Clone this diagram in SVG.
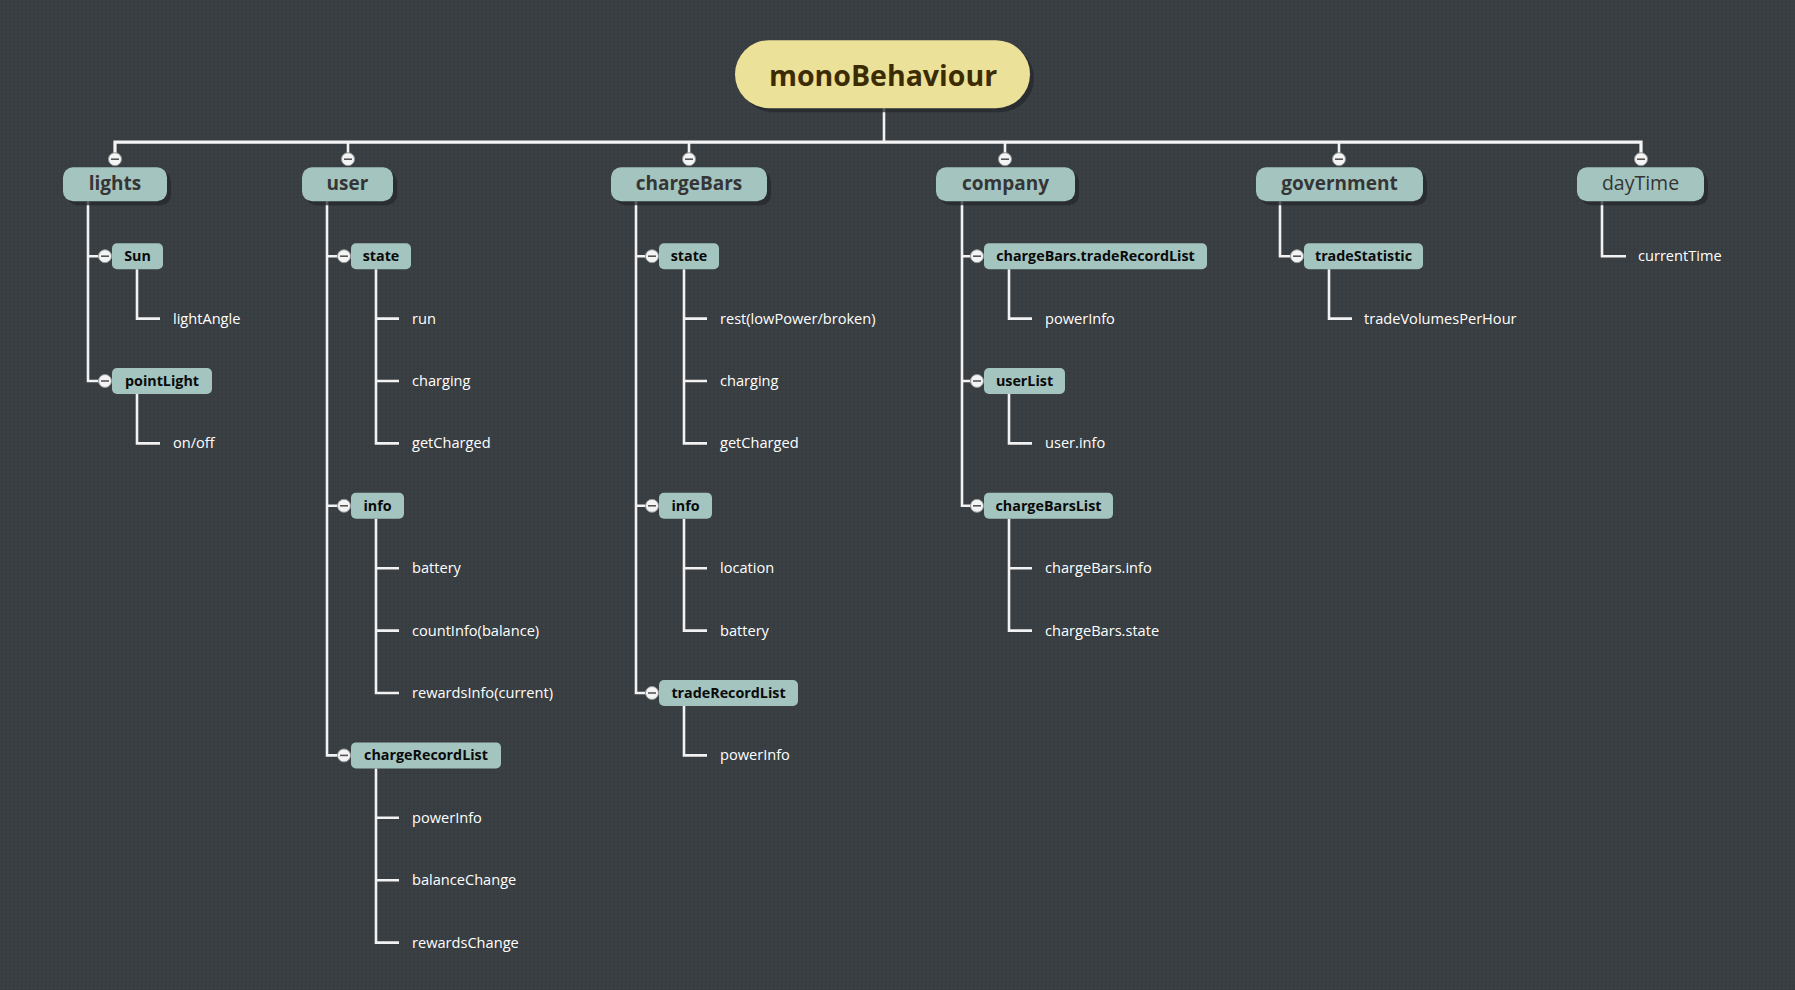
<svg xmlns="http://www.w3.org/2000/svg" width="1795" height="990" viewBox="0 0 1795 990">
<defs>
<pattern id="dots" width="4" height="4" patternUnits="userSpaceOnUse">
<rect width="4" height="4" fill="#3a3f43"/>
<rect x="1" y="1" width="1.2" height="1.2" fill="#31363a"/>
</pattern>
<g id="minus">
<circle r="6.5" fill="#f4f4f4" stroke="#8f9494" stroke-width="1"/>
<line x1="-4" y1="0" x2="4" y2="0" stroke="#555" stroke-width="1.6"/>
</g>
</defs>
<style>
.ln{fill:none;stroke:#f2f2f2;stroke-width:2.6}
.bar{fill:none;stroke:#f4f4f4;stroke-width:3.2}
.sh{fill:#262a2d;opacity:0.75}
.n1{fill:#a3c4bf}
.n2{fill:#a3c4bf}
.t0{font-family:"Open Sans","Noto Sans",sans-serif;font-size:28.5px;font-weight:700;fill:#3d2c03;text-anchor:middle}
.t1{font-family:"Open Sans","Noto Sans",sans-serif;font-size:19px;font-weight:700;fill:#353535;text-anchor:middle}
.t1n{font-family:"Open Sans","Noto Sans",sans-serif;font-size:19.5px;font-weight:400;fill:#353535;text-anchor:middle}
.t2{font-family:"Open Sans","Noto Sans",sans-serif;font-size:14.3px;font-weight:700;fill:#0a0a0a;text-anchor:middle}
.t3{font-family:"Open Sans","Noto Sans",sans-serif;font-size:14.6px;font-weight:400;fill:#ffffff}
</style>
<rect width="1795" height="990" fill="url(#dots)"/>
<g transform="translate(0,1.2)">
<g id="connectors">
<path class="ln" d="M884,107 V141"/>
<path class="bar" d="M115,152 V141 H1641 V152"/>
<path class="ln" d="M348,141 V152 M689,141 V152 M1005,141 V152 M1339,141 V152"/>
<path class="ln" d="M88,200 V379.8 H99 M88,255 H99"/>
<path class="ln" d="M137,268 V317.4 H160"/>
<path class="ln" d="M137,392.8 V442.2 H160"/>
<path class="ln" d="M327,200 V754.2 H338 M327,255 H338 M327,504.6 H338"/>
<path class="ln" d="M376,268 V442.2 H399 M376,317.4 H399 M376,379.8 H399"/>
<path class="ln" d="M376,517.6 V691.8 H399 M376,567 H399 M376,629.4 H399"/>
<path class="ln" d="M376,767.2 V941.4 H399 M376,816.6 H399 M376,879 H399"/>
<path class="ln" d="M636,200 V691.8 H646 M636,255 H646 M636,504.6 H646"/>
<path class="ln" d="M684,268 V442.2 H707 M684,317.4 H707 M684,379.8 H707"/>
<path class="ln" d="M684,517.6 V629.4 H707 M684,567 H707"/>
<path class="ln" d="M684,704.8 V754.2 H707"/>
<path class="ln" d="M962,200 V504.6 H971 M962,255 H971 M962,379.8 H971"/>
<path class="ln" d="M1009,268 V317.4 H1032"/>
<path class="ln" d="M1009,392.8 V442.2 H1032"/>
<path class="ln" d="M1009,517.6 V629.4 H1032 M1009,567 H1032"/>
<path class="ln" d="M1280,200 V255 H1291"/>
<path class="ln" d="M1329,268 V317.4 H1352"/>
<path class="ln" d="M1602,200 V255 H1626"/>
</g>

<g id="root">
<rect class="sh" x="739" y="43" width="295" height="68" rx="34"/>
<rect x="735" y="39" width="295" height="68" rx="34" fill="#ebe198"/>
<text class="t0" x="883" y="85">monoBehaviour</text>
</g>

<g id="lights">
<rect class="sh" x="67" y="170" width="104" height="34" rx="10"/>
<rect class="n1" x="63" y="166" width="104" height="34" rx="10"/>
<text class="t1" x="115" y="189">lights</text>
<use href="#minus" x="115" y="158"/>
</g>
<g id="user">
<rect class="sh" x="306" y="170" width="91" height="34" rx="10"/>
<rect class="n1" x="302" y="166" width="91" height="34" rx="10"/>
<text class="t1" x="347.5" y="189">user</text>
<use href="#minus" x="348" y="158"/>
</g>
<g id="chargeBars">
<rect class="sh" x="615" y="170" width="156" height="34" rx="10"/>
<rect class="n1" x="611" y="166" width="156" height="34" rx="10"/>
<text class="t1" x="689" y="189">chargeBars</text>
<use href="#minus" x="689" y="158"/>
</g>
<g id="company">
<rect class="sh" x="940" y="170" width="139" height="34" rx="10"/>
<rect class="n1" x="936" y="166" width="139" height="34" rx="10"/>
<text class="t1" x="1005.5" y="189">company</text>
<use href="#minus" x="1005" y="158"/>
</g>
<g id="government">
<rect class="sh" x="1260" y="170" width="167" height="34" rx="10"/>
<rect class="n1" x="1256" y="166" width="167" height="34" rx="10"/>
<text class="t1" x="1339.5" y="189">government</text>
<use href="#minus" x="1339" y="158"/>
</g>
<g id="dayTime">
<rect class="sh" x="1581" y="170" width="127" height="34" rx="10"/>
<rect class="n1" x="1577" y="166" width="127" height="34" rx="10"/>
<text class="t1n" x="1640.5" y="189">dayTime</text>
<use href="#minus" x="1641" y="158"/>
</g>

<g id="lights-sun">
<rect class="n2" x="112" y="242" width="51" height="26" rx="5"/>
<text class="t2" x="137.5" y="260">Sun</text>
<use href="#minus" x="105" y="255"/>
</g>
<g id="lights-pointLight">
<rect class="n2" x="112" y="366.8" width="100" height="26" rx="5"/>
<text class="t2" x="162" y="384.8">pointLight</text>
<use href="#minus" x="105" y="379.8"/>
</g>
<g id="user-state">
<rect class="n2" x="351" y="242" width="60" height="26" rx="5"/>
<text class="t2" x="381" y="260">state</text>
<use href="#minus" x="344" y="255"/>
</g>
<g id="user-info">
<rect class="n2" x="351" y="491.6" width="53" height="26" rx="5"/>
<text class="t2" x="377.5" y="509.6">info</text>
<use href="#minus" x="344" y="504.6"/>
</g>
<g id="user-chargeRecordList">
<rect class="n2" x="351" y="741.2" width="150" height="26" rx="5"/>
<text class="t2" x="426" y="759.2">chargeRecordList</text>
<use href="#minus" x="344" y="754.2"/>
</g>
<g id="cb-state">
<rect class="n2" x="659" y="242" width="60" height="26" rx="5"/>
<text class="t2" x="689" y="260">state</text>
<use href="#minus" x="652" y="255"/>
</g>
<g id="cb-info">
<rect class="n2" x="659" y="491.6" width="53" height="26" rx="5"/>
<text class="t2" x="685.5" y="509.6">info</text>
<use href="#minus" x="652" y="504.6"/>
</g>
<g id="cb-tradeRecordList">
<rect class="n2" x="659" y="678.8" width="139" height="26" rx="5"/>
<text class="t2" x="728.5" y="696.8">tradeRecordList</text>
<use href="#minus" x="652" y="691.8"/>
</g>
<g id="co-tradeRecordList">
<rect class="n2" x="984" y="242" width="223" height="26" rx="5"/>
<text class="t2" x="1095.5" y="260">chargeBars.tradeRecordList</text>
<use href="#minus" x="977" y="255"/>
</g>
<g id="co-userList">
<rect class="n2" x="984" y="366.8" width="81" height="26" rx="5"/>
<text class="t2" x="1024.5" y="384.8">userList</text>
<use href="#minus" x="977" y="379.8"/>
</g>
<g id="co-chargeBarsList">
<rect class="n2" x="984" y="491.6" width="129" height="26" rx="5"/>
<text class="t2" x="1048.5" y="509.6">chargeBarsList</text>
<use href="#minus" x="977" y="504.6"/>
</g>
<g id="gov-tradeStatistic">
<rect class="n2" x="1304" y="242" width="119" height="26" rx="5"/>
<text class="t2" x="1363.5" y="260">tradeStatistic</text>
<use href="#minus" x="1297" y="255"/>
</g>

<g id="leaves">
<text class="t3" x="173" y="322.4">lightAngle</text>
<text class="t3" x="173" y="447.2">on/off</text>
<text class="t3" x="412" y="322.4">run</text>
<text class="t3" x="412" y="384.8">charging</text>
<text class="t3" x="412" y="447.2">getCharged</text>
<text class="t3" x="412" y="572">battery</text>
<text class="t3" x="412" y="634.4">countInfo(balance)</text>
<text class="t3" x="412" y="696.8">rewardsInfo(current)</text>
<text class="t3" x="412" y="821.6">powerInfo</text>
<text class="t3" x="412" y="884">balanceChange</text>
<text class="t3" x="412" y="946.4">rewardsChange</text>
<text class="t3" x="720" y="322.4">rest(lowPower/broken)</text>
<text class="t3" x="720" y="384.8">charging</text>
<text class="t3" x="720" y="447.2">getCharged</text>
<text class="t3" x="720" y="572">location</text>
<text class="t3" x="720" y="634.4">battery</text>
<text class="t3" x="720" y="759.2">powerInfo</text>
<text class="t3" x="1045" y="322.4">powerInfo</text>
<text class="t3" x="1045" y="447.2">user.info</text>
<text class="t3" x="1045" y="572">chargeBars.info</text>
<text class="t3" x="1045" y="634.4">chargeBars.state</text>
<text class="t3" x="1364" y="322.4">tradeVolumesPerHour</text>
<text class="t3" x="1638" y="260">currentTime</text>
</g>
</g>
</svg>
